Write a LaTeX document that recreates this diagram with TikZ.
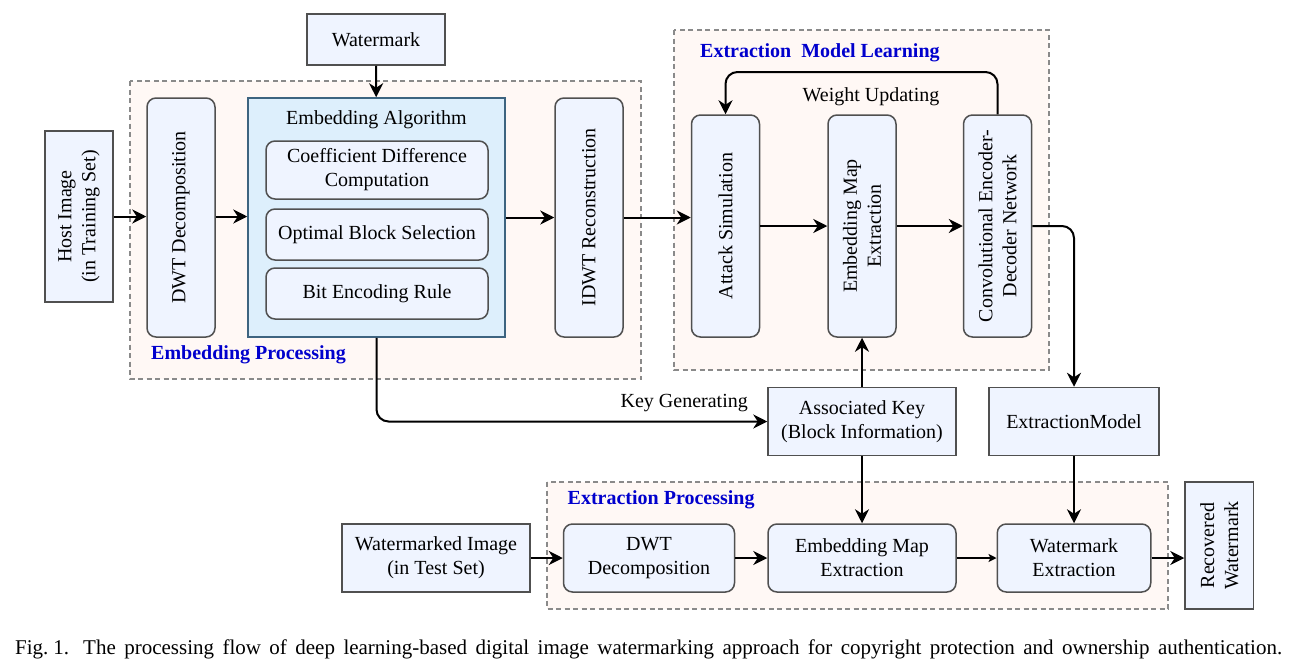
\documentclass[tikz,border=0pt]{standalone}
\usepackage{fontspec}
\setmainfont{Liberation Serif}
\usetikzlibrary{arrows.meta}
\definecolor{nodefill}{HTML}{EFF4FF}
\definecolor{nodedraw}{HTML}{505050}
\definecolor{eafill}{HTML}{DDEFFC}
\definecolor{eadraw}{HTML}{3D6480}
\definecolor{bgfill}{HTML}{FFF8F5}
\definecolor{bgdraw}{HTML}{8A8A8A}
\definecolor{headblue}{HTML}{0000CD}
\tikzset{
  every node/.style={font=\fontsize{20}{24}\selectfont},
  box/.style={draw=nodedraw, fill=nodefill, line width=1.5pt, inner sep=0pt, align=center},
  rbox/.style={box, rounded corners=9pt},
  eabox/.style={draw=eadraw, fill=eafill, line width=1.5pt, inner sep=0pt},
  bgbox/.style={draw=bgdraw, fill=bgfill, line width=1.4pt, dash pattern=on 5pt off 3.5pt},
  rtext/.style={rotate=90, align=center, inner sep=0pt},
  head/.style={font=\fontsize{20}{24}\selectfont\bfseries, text=headblue, inner sep=0pt, anchor=west},
  conn/.style={line width=2pt, -{Stealth[length=14pt,width=14pt,inset=4.5pt]}},
  connb/.style={line width=1.7pt, -{Stealth[length=14pt,width=14pt,inset=4.5pt]}},
  conns/.style={line width=1.6pt, -{Stealth[length=8pt,width=8pt,inset=2pt]}},
  plain/.style={inner sep=0pt}
}
\begin{document}
\begin{tikzpicture}[x=1pt,y=-1pt]
\useasboundingbox (0,0) rectangle (1296,672);
% background groups
\draw[bgbox] (130,81) rectangle (641,379);
\draw[bgbox] (674,30) rectangle (1049,370);
\draw[bgbox] (547,482) rectangle (1168,609);
\node[head] (hep) at (151,355) {Embedding Processing};
\node[head] (heml) at (700,53) {Extraction\ \ Model Learning};
\node[head] (hxp) at (567.5,500) {Extraction Processing};

% top row
\node[box, minimum width=138pt, minimum height=51pt] (wm) at (376,39.5) {Watermark};
\node[box, minimum width=68pt, minimum height=171pt] (host) at (79,216.5) {};
\node[rtext] at (host) {Host Image\\(in Training Set)};
\node[rbox, minimum width=68pt, minimum height=239pt] (dwt1) at (181,217.5) {};
\node[rtext] at (dwt1) {DWT Decomposition};
\node[eabox, minimum width=257pt, minimum height=239pt] (ea) at (376.5,217.5) {};
\node[plain] (eat) at (376.5,120) {Embedding Algorithm};
\node[rbox, minimum width=222pt, minimum height=58pt] (coeff) at (377,170) {Coefficient Difference\\Computation};
\node[rbox, minimum width=222pt, minimum height=51pt] (opt) at (377,234.5) {Optimal Block Selection};
\node[rbox, minimum width=222pt, minimum height=51pt] (bit) at (377,293.5) {Bit Encoding Rule};
\node[rbox, minimum width=68pt, minimum height=239pt] (idwt) at (589,217.5) {};
\node[rtext] at (idwt) {IDWT Reconstruction};

\node[rbox, minimum width=68pt, minimum height=222pt] (attack) at (725.5,226) {};
\node[rtext] at (attack) {Attack Simulation};
\node[rbox, minimum width=68pt, minimum height=222pt] (eme1) at (862,226) {};
\node[rtext] at (eme1) {Embedding Map\\Extraction};
\node[rbox, minimum width=68pt, minimum height=222pt] (conv) at (997.5,226) {};
\node[rtext] at (conv) {Convolutional Encoder-\\Decoder Network};
\node[plain] (wu) at (871,97) {Weight Updating};

% middle
\node[box, minimum width=188pt, minimum height=68pt] (akey) at (862,421.5) {Associated Key\\(Block Information)};
\node[box, minimum width=170pt, minimum height=68pt] (exmodel) at (1074,421.5) {ExtractionModel};
\node[plain, anchor=east] (kg) at (748,403) {Key Generating};

% bottom row
\node[box, minimum width=188pt, minimum height=68pt] (wmi) at (436,558) {Watermarked Image\\(in Test Set)};
\node[rbox, minimum width=171pt, minimum height=68pt] (dwt2) at (649,558) {DWT\\Decomposition};
\node[rbox, minimum width=188pt, minimum height=68pt] (eme2) at (862,558) {Embedding Map\\Extraction};
\node[rbox, minimum width=153.5pt, minimum height=68pt] (we) at (1074,558) {Watermark\\Extraction};
\node[box, minimum width=68.5pt, minimum height=127pt] (rec) at (1219.25,545.5) {};
\node[rtext] at (rec) {Recovered\\Watermark};

% connectors
\draw[conn] (wm) -- (ea);
\draw[conn] (host.east |- 0,216.5) -- (dwt1.west |- 0,216.5);
\draw[conn] (dwt1.east |- 0,216.5) -- (ea.west |- 0,216.5);
\draw[conn] (ea.east |- 0,217.5) -- (idwt.west |- 0,217.5);
\draw[conn] (idwt.east |- 0,217.5) -- (attack.west |- 0,217.5);
\draw[conn] (attack.east) -- (eme1.west);
\draw[conn] (eme1.east) -- (conv.west);
\draw[conn, rounded corners=12pt] (conv.north) -- (conv.north |- 0,72) -- (attack.north |- 0,72) -- (attack.north);
\draw[conn, rounded corners=12pt] (conv.east) -| (exmodel.north);
\draw[conn, rounded corners=12pt] (ea.south) |- (akey.west);
\draw[conn] (akey.north) -- (eme1.south);
\draw[connb] (akey.south) -- (eme2.north);
\draw[connb] (exmodel.south) -- (we.north);
\draw[connb] (wmi.east) -- (dwt2.west);
\draw[connb] (dwt2.east) -- (eme2.west);
\draw[conns] (eme2.east) -- (we.west);
\draw[connb] (we.east) -- (we.east -| rec.west);

% caption
\node[plain, anchor=west, font=\fontsize{21}{25}\selectfont] (cap) at (15,649) {\frenchspacing\makebox[1267pt][s]{Fig.\kern5pt1.\kern14pt The processing flow of deep learning-based digital image watermarking approach for copyright protection and ownership authentication.}};
\end{tikzpicture}
\end{document}
